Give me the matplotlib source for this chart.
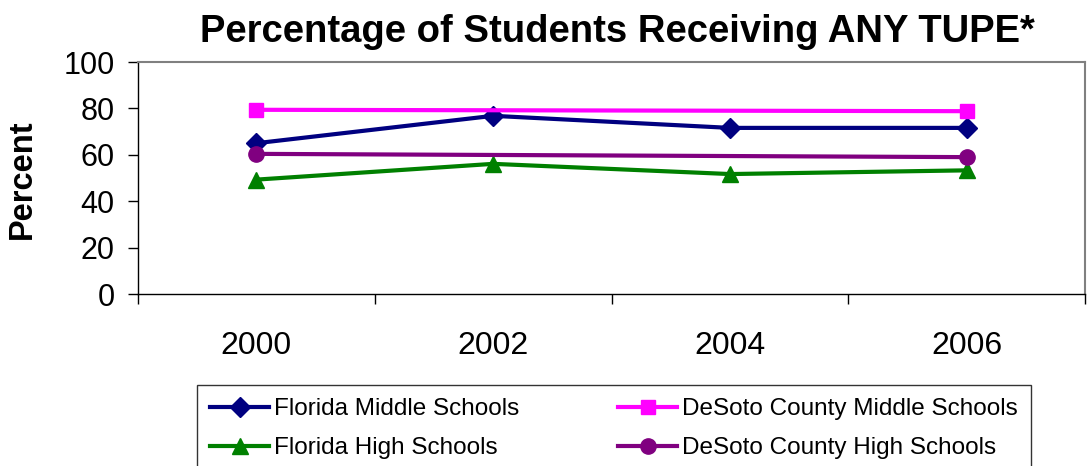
import numpy as np
import matplotlib
matplotlib.use("Agg")
import matplotlib.pyplot as plt

plt.rcParams['font.family'] = ['Liberation Sans', 'DejaVu Sans']

# values
years = ['2000', '2002', '2004', '2006']
fl_middle = [65.0, 76.8, 71.6, 71.6]
fl_high = [49.3, 56.1, 51.7, 53.3]
desoto_years = ['2000', '2006']
desoto_middle = [79.4, 78.8]
desoto_high = [60.4, 59.0]
y_ticks = [0, 20, 40, 60, 80, 100]

fig = plt.figure(figsize=(10.87, 4.66), dpi=100)
ax = fig.add_axes([138 / 1087, 1 - 294 / 466, 947 / 1087, 232 / 466])

x = np.arange(len(years))
xd = np.array([years.index(y) for y in desoto_years])

l1, = ax.plot(x, fl_middle, color='#000080', lw=3, marker='D', ms=10,
              label='Florida Middle Schools')
l2, = ax.plot(xd, desoto_middle, color='#FF00FF', lw=3, marker='s', ms=10.5,
              label='DeSoto County Middle Schools')
l3, = ax.plot(x, fl_high, color='#008000', lw=3, marker='^', ms=12,
              label='Florida High Schools')
l4, = ax.plot(xd, desoto_high, color='#800080', lw=3, marker='o', ms=11,
              label='DeSoto County High Schools')

ax.set_xlim(-0.5, len(years) - 0.5)
ax.set_ylim(0, 100)
ax.set_yticks(y_ticks)
ax.tick_params(axis='y', labelsize=22, length=7, width=1, direction='out', pad=10)

# tick marks between categories, labels in the middle
ax.set_xticks(np.arange(-0.5, len(years), 1.0))
ax.set_xticklabels([])
ax.tick_params(axis='x', which='major', length=7, width=1, direction='out')
ax.set_xticks(x, minor=True)
ax.set_xticklabels(years, minor=True)
ax.tick_params(axis='x', which='minor', length=0, labelsize=23, pad=27)

for side in ['top', 'right']:
    ax.spines[side].set_color('#808080')
    ax.spines[side].set_linewidth(1.5)
for side in ['left', 'bottom']:
    ax.spines[side].set_color('black')
    ax.spines[side].set_linewidth(1)

ax.set_ylabel('Percent', fontsize=23.5, fontweight='bold')
ax.yaxis.set_label_coords(-0.1055, 0.496)

fig.text(617 / 1087, 1 - 42 / 466, 'Percentage of Students Receiving ANY TUPE*',
         ha='center', va='baseline', fontsize=27.5, fontweight='bold')

leg = fig.legend(handles=[l1, l3, l2, l4], ncol=2, fontsize=17.5,
                 loc='upper left', bbox_to_anchor=(197 / 1087, 1 - 385 / 466),
                 frameon=True, fancybox=False, edgecolor='black',
                 handlelength=2.4, handletextpad=0.2, borderaxespad=0,
                 columnspacing=4.1, labelspacing=0.7, borderpad=0.55)
leg.get_frame().set_linewidth(1)

fig.savefig('out.png', dpi=100)
